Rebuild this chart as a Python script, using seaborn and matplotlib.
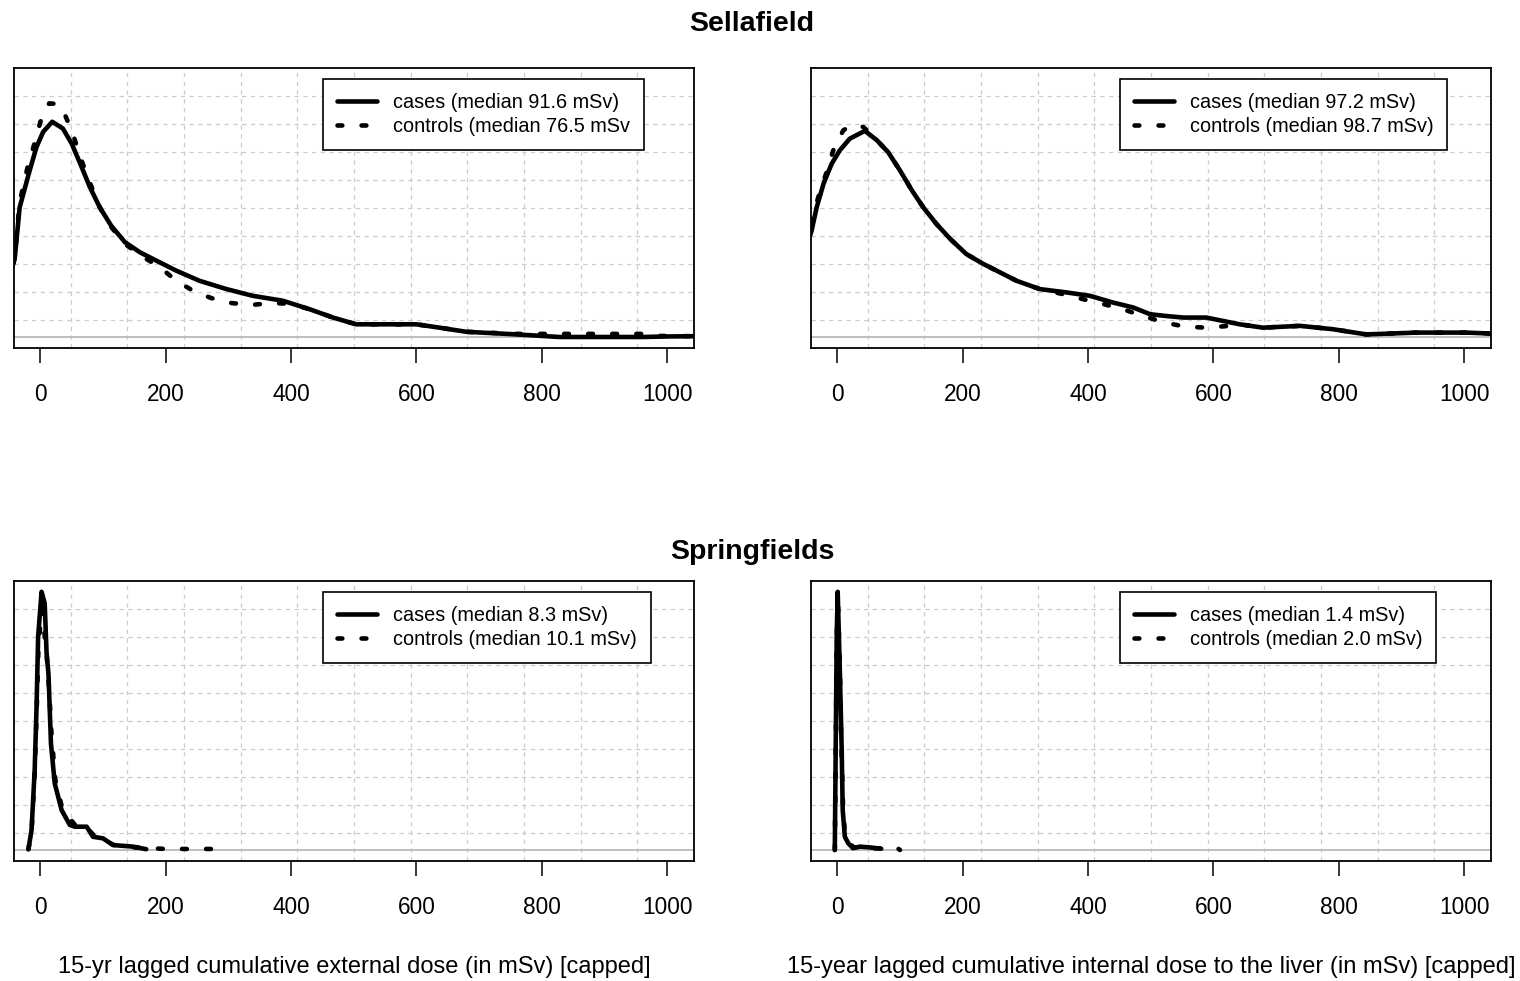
import numpy as np
import pandas as pd
import matplotlib
matplotlib.use("Agg")
import matplotlib.pyplot as plt
import seaborn as sns

# density curves (y scaled so that 1 = top of the y range)

# Sellafield - external dose
sel_ext_cases_x = [-45, -41, -33, -17, -6, 4.5, 19, 36, 50, 66, 79, 95, 113, 135, 159, 185, 217, 254,
                   297, 339, 387, 430, 467, 504, 560, 600, 637, 680, 760, 828, 900, 961, 1000, 1045]
sel_ext_cases_y = [0.27, 0.30, 0.50, 0.643, 0.734, 0.792, 0.831, 0.805, 0.747, 0.656, 0.579, 0.50, 0.43,
                   0.366, 0.327, 0.295, 0.256, 0.217, 0.185, 0.159, 0.14, 0.107, 0.075, 0.049, 0.049,
                   0.049, 0.036, 0.02, 0.01, 0.0, 0.0, 0.0, 0.002, 0.003]
sel_ext_ctrl_x = [-45, -41, -33, -20, -9, 0, 14, 28, 36, 50, 66, 80, 95, 113, 135, 160, 191, 217, 244,
                  273, 305, 337, 371, 400, 430, 467, 504, 600, 637, 680, 760, 828, 960, 990, 1045]
sel_ext_ctrl_y = [0.27, 0.30, 0.52, 0.66, 0.75, 0.83, 0.902, 0.90, 0.876, 0.798, 0.68, 0.59, 0.50, 0.425,
                  0.36, 0.315, 0.269, 0.217, 0.178, 0.15, 0.131, 0.124, 0.131, 0.128, 0.107, 0.075,
                  0.049, 0.049, 0.036, 0.02, 0.012, 0.012, 0.012, 0.004, 0.003]

# Sellafield - internal dose to the liver
sel_int_cases_x = [-45, -41, -33, -22, -9, 4, 20, 36, 44, 63, 81, 100, 119, 137, 158, 180, 206, 233, 260,
                   286, 323, 366, 403, 440, 472, 499, 525, 552, 589, 642, 679, 738, 791, 844, 924, 1004, 1045]
sel_int_cases_y = [0.38, 0.411, 0.50, 0.592, 0.669, 0.721, 0.766, 0.786, 0.796, 0.76, 0.714, 0.643, 0.566,
                   0.501, 0.437, 0.379, 0.32, 0.282, 0.249, 0.217, 0.185, 0.172, 0.159, 0.133, 0.114,
                   0.088, 0.081, 0.075, 0.075, 0.049, 0.036, 0.043, 0.03, 0.01, 0.017, 0.017, 0.013]
sel_int_ctrl_x = [-45, -38, -28, -17, -6, 9.5, 25, 41.5, 63, 81, 100, 119, 137, 158, 180, 206, 233, 260,
                  286, 323, 361, 392, 420, 456, 488, 523, 555, 589, 626, 642, 679, 738, 791, 844, 924, 1004, 1045]
sel_int_ctrl_y = [0.44, 0.475, 0.56, 0.637, 0.724, 0.798, 0.82, 0.811, 0.76, 0.714, 0.643, 0.566, 0.501,
                  0.437, 0.379, 0.32, 0.282, 0.249, 0.217, 0.185, 0.165, 0.146, 0.13, 0.107, 0.081,
                  0.055, 0.04, 0.036, 0.043, 0.049, 0.036, 0.043, 0.03, 0.01, 0.017, 0.017, 0.013]

# Springfields - external dose
spr_ext_cases_x = [-19, -14, -9, -6, -3.5, 2, 7, 10, 13, 17, 23, 34, 47, 55, 63, 74, 84, 100, 116, 148, 169]
spr_ext_cases_y = [0.003, 0.077, 0.309, 0.553, 0.824, 0.997, 0.952, 0.759, 0.68, 0.41, 0.257, 0.154, 0.097,
                   0.09, 0.09, 0.09, 0.051, 0.045, 0.019, 0.013, 0.003]
spr_ext_ctrl_x = [-19, -14, -9, -6, -3, 2, 6, 10, 14, 18, 24, 35, 44, 56, 68, 84, 100, 116, 150, 200, 279]
spr_ext_ctrl_y = [0.003, 0.07, 0.29, 0.52, 0.78, 0.93, 0.85, 0.76, 0.62, 0.44, 0.27, 0.16, 0.13, 0.095,
                  0.103, 0.06, 0.045, 0.02, 0.01, 0.004, 0.004]

# Springfields - internal dose to the liver
spr_int_cases_x = [-4, -1, 0.6, 4, 7, 8.6, 12, 17.5, 25, 36, 52, 70]
spr_int_cases_y = [0.0, 0.824, 0.997, 0.695, 0.386, 0.154, 0.051, 0.026, 0.007, 0.013, 0.01, 0.005]
spr_int_ctrl_x = [-4, -1, 0.6, 4, 6, 9, 12, 18, 26, 40, 60, 95, 100]
spr_int_ctrl_y = [0.0, 0.80, 0.98, 0.72, 0.45, 0.18, 0.06, 0.03, 0.01, 0.01, 0.006, 0.009, 0.0]

legend_labels = [
    ["cases (median 91.6 mSv)", "controls (median 76.5 mSv"],
    ["cases (median 97.2 mSv)", "controls (median 98.7 mSv)"],
    ["cases (median 8.3 mSv)", "controls (median 10.1 mSv)"],
    ["cases (median 1.4 mSv)", "controls (median 2.0 mSv)"],
]
xlabels = ["15-yr lagged cumulative external dose (in mSv) [capped]",
           "15-year lagged cumulative internal dose to the liver (in mSv) [capped]"]
x_ticks = [0, 200, 400, 600, 800, 1000]

sns.set_theme(style="white")
plt.rcParams["font.family"] = ["Liberation Sans", "DejaVu Sans"]
plt.rcParams["text.color"] = "black"
plt.rcParams["axes.labelcolor"] = "black"
plt.rcParams["xtick.color"] = "black"

fig = plt.figure(figsize=(15.2, 9.81), dpi=100)

W, H = 1520, 981
panel_px = [(14, 68), (811, 68), (14, 581), (811, 581)]
pw, ph = 680, 280

curves = [
    (sel_ext_cases_x, sel_ext_cases_y, sel_ext_ctrl_x, sel_ext_ctrl_y),
    (sel_int_cases_x, sel_int_cases_y, sel_int_ctrl_x, sel_int_ctrl_y),
    (spr_ext_cases_x, spr_ext_cases_y, spr_ext_ctrl_x, spr_ext_ctrl_y),
    (spr_int_cases_x, spr_int_cases_y, spr_int_ctrl_x, spr_int_ctrl_y),
]

xlim = (-42, 1043)
ylim = (-0.0425, 1.0387)
lw = 3.3

for i, (cx, cy, kx, ky) in enumerate(curves):
    left, top = panel_px[i]
    ax = fig.add_axes([left / W, 1 - (top + ph) / H, pw / W, ph / H])
    ax.set_xlim(xlim)
    ax.set_ylim(ylim)

    # grid like R's grid(12, 10)
    for k in range(1, 12):
        ax.axvline(xlim[0] + k * (xlim[1] - xlim[0]) / 12, color="#cccccc", lw=0.9,
                   ls=(0, (3.5, 3.5)), zorder=0)
    for k in range(1, 10):
        ax.axhline(ylim[0] + k * (ylim[1] - ylim[0]) / 10, color="#cccccc", lw=0.9,
                   ls=(0, (3.5, 3.5)), zorder=0)
    ax.axhline(0, color="#bebebe", lw=1.4, zorder=1)

    df_c = pd.DataFrame({"x": cx, "y": cy})
    df_k = pd.DataFrame({"x": kx, "y": ky})
    sns.lineplot(data=df_c, x="x", y="y", ax=ax, color="black", lw=lw,
                 solid_capstyle="round", solid_joinstyle="round",
                 estimator=None, sort=False, label=legend_labels[i][0], zorder=3)
    sns.lineplot(data=df_k, x="x", y="y", ax=ax, color="black", lw=lw,
                 linestyle=(0, (1.05, 4.2)), dash_capstyle="round",
                 estimator=None, sort=False, label=legend_labels[i][1], zorder=4)

    leg = ax.legend(loc="upper left", bbox_to_anchor=(0.4549, 0.9606), borderaxespad=0,
                    fontsize=14.3, frameon=True, fancybox=False, edgecolor="black",
                    handlelength=2.0, handletextpad=0.8, borderpad=0.7, labelspacing=0.25)
    leg.get_frame().set_linewidth(1.2)
    leg.get_frame().set_alpha(1)
    for t in leg.get_texts():
        t.set_color("black")

    ax.set_xticks(x_ticks)
    ax.set_xticklabels([str(t) for t in x_ticks])
    ax.set_yticks([])
    ax.tick_params(axis="x", bottom=True, direction="out", length=10.5, width=1.1,
                   color="black", pad=14.5, labelsize=16.3, labelcolor="black")
    ax.set_ylabel("")
    if i >= 2:
        ax.set_xlabel(xlabels[i - 2], fontsize=17, labelpad=27, color="black")
    else:
        ax.set_xlabel("")
    for sp in ax.spines.values():
        sp.set_visible(True)
        sp.set_color("black")
        sp.set_linewidth(1.3)

fig.text(752 / W, 1 - 24 / H, "Sellafield", ha="center", va="center",
         fontsize=20.5, fontweight="bold", color="black")
fig.text(752 / W, 1 - 552 / H, "Springfields", ha="center", va="center",
         fontsize=20.5, fontweight="bold", color="black")

fig.savefig("out.png", dpi=100, facecolor="white")
